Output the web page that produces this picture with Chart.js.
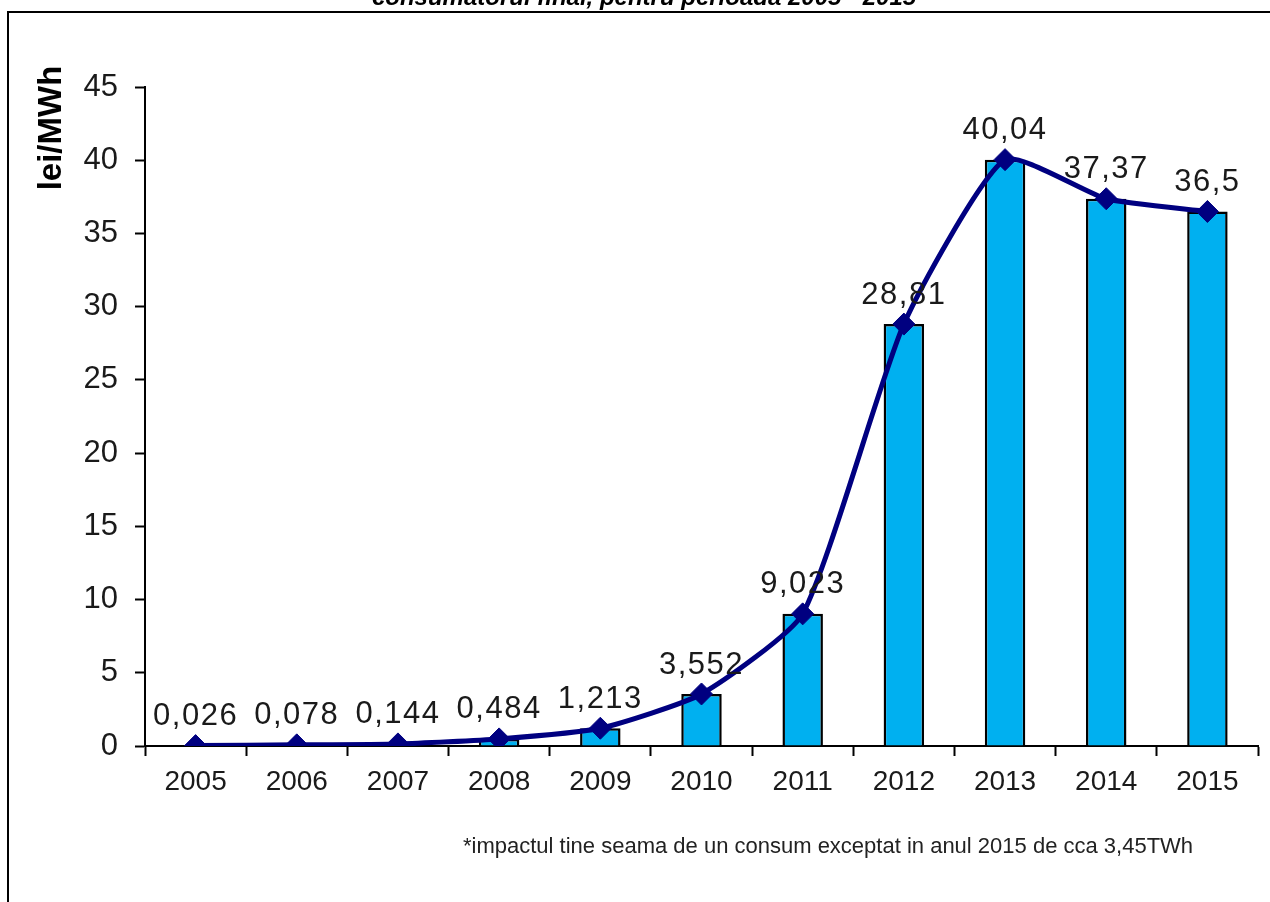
<!DOCTYPE html>
<html>
<head>
<meta charset="utf-8">
<script src="https://cdn.jsdelivr.net/npm/chart.js@4/dist/chart.umd.min.js"></script>
<style>
  html, body { margin: 0; padding: 0; background: #fff; }
  #wrap { width: 1270px; height: 902px; }
</style>
</head>
<body>
<div id="wrap"><canvas id="impactChart" width="1270" height="902"></canvas></div>
<script>
const years = ['2005', '2006', '2007', '2008', '2009', '2010', '2011', '2012', '2013', '2014', '2015'];
const impact = [0.026, 0.078, 0.144, 0.484, 1.213, 3.552, 9.023, 28.81, 40.04, 37.37, 36.5];
const labels = ['0,026', '0,078', '0,144', '0,484', '1,213', '3,552', '9,023', '28,81', '40,04', '37,37', '36,5'];
const titleText = 'consumatorul final, pentru perioada 2005 - 2015';
const axisTitle = 'lei/MWh';
const footnote = '*impactul tine seama de un consum exceptat in anul 2015 de cca 3,45TWh';

// frame, cut-off title, axis title, footnote and value labels
const extras = {
    id: 'extras',
    afterDraw(chart) {
        const ctx = chart.ctx;
        ctx.save();
        ctx.strokeStyle = '#000';
        ctx.lineWidth = 2;
        ctx.beginPath();
        ctx.moveTo(8, 902);
        ctx.lineTo(8, 12);
        ctx.lineTo(1270, 12);
        ctx.stroke();

        ctx.fillStyle = '#000';
        ctx.textAlign = 'center';
        ctx.textBaseline = 'alphabetic';
        ctx.font = 'italic bold 24px "Liberation Sans", Arial, sans-serif';
        ctx.fillText(titleText, 644, 5, 545);

        ctx.save();
        ctx.translate(52, 128);
        ctx.rotate(-Math.PI / 2);
        ctx.font = 'bold 33px "Liberation Sans", Arial, sans-serif';
        ctx.textBaseline = 'middle';
        ctx.fillText(axisTitle, 0, 0);
        ctx.restore();

        ctx.textAlign = 'left';
        ctx.fillStyle = '#222';
        ctx.font = '22px "Liberation Sans Narrow", "Liberation Sans", Arial, sans-serif';
        ctx.fillText(footnote, 463, 853, 743);

        const pts = chart.getDatasetMeta(1).data;
        ctx.fillStyle = '#1a1a1a';
        ctx.textAlign = 'center';
        ctx.textBaseline = 'middle';
        ctx.font = '31px "Liberation Sans", Arial, sans-serif';
        ctx.letterSpacing = '1.5px';
        pts.forEach((p, i) => {
            ctx.fillText(labels[i], p.x, p.y - 29);
        });
        ctx.restore();
    }
};

const ctx = document.getElementById('impactChart').getContext('2d');
new Chart(ctx, {
    type: 'bar',
    data: {
        labels: years,
        datasets: [{
            type: 'bar',
            data: impact,
            backgroundColor: '#00B0F0',
            borderColor: '#000',
            borderWidth: 2.5,
            borderSkipped: 'bottom',
            categoryPercentage: 1,
            barPercentage: 0.4,
            order: 2
        }, {
            type: 'line',
            data: impact,
            borderColor: '#000080',
            borderWidth: 5,
            tension: 0.18,
            pointStyle: 'rectRot',
            pointRadius: 11,
            pointBackgroundColor: '#000080',
            pointBorderColor: '#000080',
            pointBorderWidth: 1,
            order: 1
        }]
    },
    options: {
        responsive: false,
        animation: false,
        layout: { padding: { top: 87, right: 3, left: 0, bottom: 0 } },
        plugins: {
            legend: { display: false },
            tooltip: { enabled: false }
        },
        scales: {
            x: {
                grid: { drawOnChartArea: false, tickLength: 10, tickColor: '#000', tickWidth: 2, offset: true },
                border: { color: '#000', width: 2 },
                ticks: { color: '#1a1a1a', padding: 9, font: { size: 28, family: '"Liberation Sans", Arial, sans-serif' } },
                afterFit: s => { s.height = 156; }
            },
            y: {
                min: 0,
                max: 45,
                ticks: { stepSize: 5, color: '#1a1a1a', padding: 17, font: { size: 31, family: '"Liberation Sans", Arial, sans-serif' } },
                grid: { drawOnChartArea: false, tickLength: 10, tickColor: '#000', tickWidth: 2 },
                border: { color: '#000', width: 2 },
                afterFit: s => { s.width = 145; }
            }
        }
    },
    plugins: [extras]
});
</script>
</body>
</html>
